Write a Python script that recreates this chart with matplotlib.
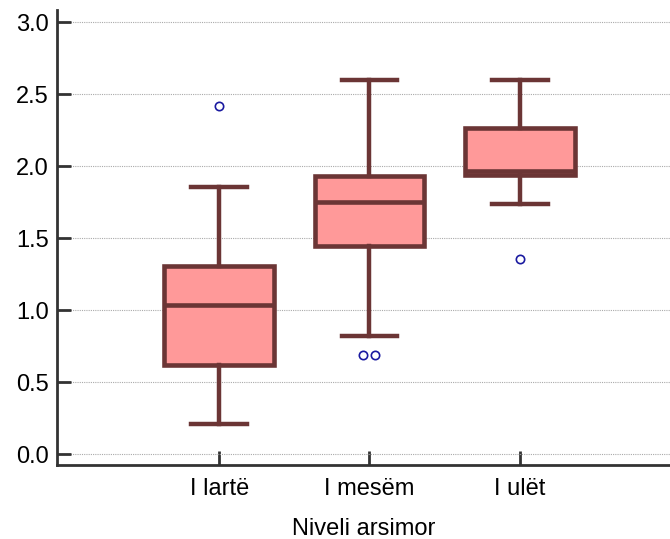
import matplotlib
matplotlib.use("Agg")
import matplotlib.pyplot as plt

plt.rcParams['font.family'] = ['Liberation Sans', 'DejaVu Sans']

categories = ["I lartë", "I mesëm", "I ulët"]
whislo = [0.21, 0.82, 1.74]
q1 = [0.62, 1.445, 1.94]
med = [1.035, 1.75, 1.965]
q3 = [1.305, 1.935, 2.265]
whishi = [1.855, 2.60, 2.60]
outliers = [[2.42], [0.69, 0.69], [1.355]]

box_fill = "#FF9999"
edge = "#6B3535"
out_color = "#1A1AA0"

fig = plt.figure(figsize=(6.70, 5.39), dpi=100)
ax = fig.add_axes([0.085, 0.137, 0.915, 0.844])

stats = []
for i, c in enumerate(categories):
    stats.append(dict(label=c, whislo=whislo[i], q1=q1[i], med=med[i], q3=q3[i],
                      whishi=whishi[i], fliers=[]))
positions = [1, 2, 3]
ax.bxp(stats, positions=positions, widths=0.73, patch_artist=True, showfliers=False,
       boxprops=dict(facecolor=box_fill, edgecolor=edge, linewidth=3.3),
       medianprops=dict(color=edge, linewidth=3.3),
       whiskerprops=dict(color=edge, linewidth=3.2),
       capprops=dict(color=edge, linewidth=3.2),
       capwidths=0.37, zorder=3)

for i, vals in enumerate(outliers):
    n = len(vals)
    offs = [0.0] if n == 1 else [(-0.04 + 0.08 * k / (n - 1)) for k in range(n)]
    for v, o in zip(vals, offs):
        ax.plot(positions[i] + o, v, marker='o', markersize=6, markerfacecolor='white',
                markeredgecolor=out_color, markeredgewidth=1.2, linestyle='none', zorder=4)

ax.set_xlim(-0.08, 4.0)
ax.set_ylim(-0.076, 3.083)
ax.set_yticks([0.0, 0.5, 1.0, 1.5, 2.0, 2.5, 3.0])
ax.set_yticklabels(["0.0", "0.5", "1.0", "1.5", "2.0", "2.5", "3.0"])
ax.set_xticks(positions)
ax.set_xticklabels(categories)
ax.yaxis.grid(True, linestyle=(0, (1, 1)), color="#AAAAAA", linewidth=0.8, zorder=0)
ax.set_axisbelow(True)
for s in ['top', 'right']:
    ax.spines[s].set_visible(False)
for s in ['left', 'bottom']:
    ax.spines[s].set_linewidth(2.0)
    ax.spines[s].set_color("#333333")
ax.tick_params(axis='both', direction='in', length=10, width=2, color="#333333",
               labelsize=17)
ax.tick_params(axis='x', pad=9)
ax.tick_params(axis='y', pad=6)
ax.set_xlabel("Niveli arsimor", fontsize=17, labelpad=13)

fig.savefig("out.png", dpi=100)
